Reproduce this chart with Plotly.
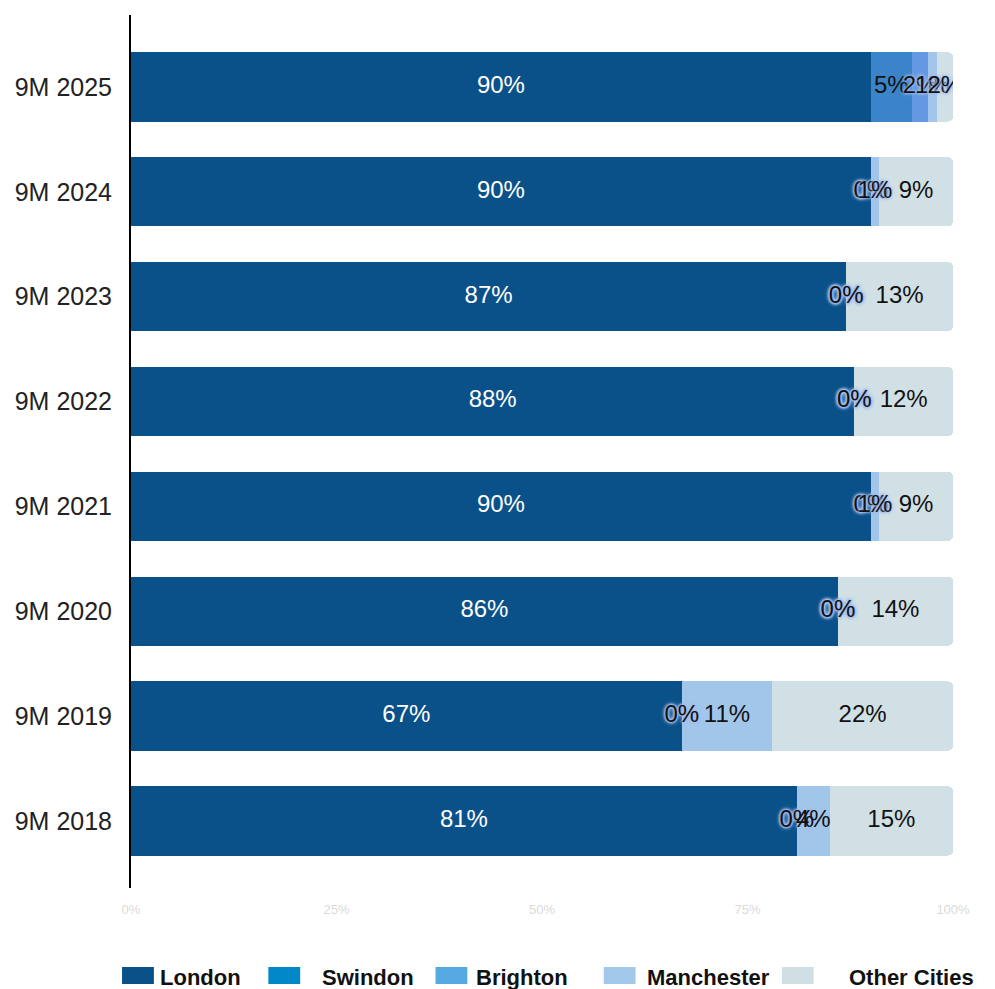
import plotly.graph_objects as go

# data
periods = ["9M 2018", "9M 2019", "9M 2020", "9M 2021", "9M 2022", "9M 2023", "9M 2024", "9M 2025"]
london = [81, 67, 86, 90, 88, 87, 90, 90]
swindon = [0, 0, 0, 0, 0, 0, 0, 5]
brighton = [0, 0, 0, 0, 0, 0, 0, 2]
manchester = [4, 11, 0, 1, 0, 0, 1, 1]
other_cities = [15, 22, 14, 9, 12, 13, 9, 2]
x_ticks = [0, 25, 50, 75, 100]
x_tick_labels = ["0%", "25%", "50%", "75%", "100%"]

series = [
    ("London", london, "#0b5189"),
    ("Swindon", swindon, "#3b84c9"),
    ("Brighton", brighton, "#6399e2"),
    ("Manchester", manchester, "#a2c6ea"),
    ("Other Cities", other_cities, "#d1e0e4"),
]
legend_colors = ["#0b5189", "#0088c8", "#55a8e0", "#a2c8ea", "#d0dfe3"]

# page body adds an 8px offset, so layout pixels are shifted by -8
OFF = 8
W, H = 995, 989
L, R, T, B = 127 - OFF, 42 + OFF, 15 - OFF, 101 + OFF
PW, PH = W - L - R, H - T - B

fig = go.Figure()

for name, vals, color in series:
    fig.add_trace(go.Bar(
        y=periods, x=vals, name=name, orientation="h",
        marker=dict(color=color, line=dict(width=0)),
        width=0.66, showlegend=False, hoverinfo="skip",
    ))

# labels: centered on each segment (zero segments sit on the boundary)
halo = "0 0 2px #a3bff0, 0 0 3px #a3bff0, 0 0 4px #a3bff0"
base = [0] * len(periods)
for name, vals, color in series:
    mids = [b + v / 2 for b, v in zip(base, vals)]
    for small in (True, False):
        xs, ys, ts = [], [], []
        for m, p, v in zip(mids, periods, vals):
            if name == "London" and small:
                continue
            if (v <= 2) != small:
                continue
            xs.append(m); ys.append(p); ts.append(f"{v}%")
        if not xs:
            continue
        font = dict(family="Liberation Sans, Arial, sans-serif", size=24,
                    color="white" if name == "London" else "#111111")
        if small:
            font["shadow"] = halo
        fig.add_trace(go.Scatter(
            x=xs, y=ys, text=ts, mode="text", textposition="middle center",
            textfont=font, showlegend=False, hoverinfo="skip",
        ))
    base = [b + v for b, v in zip(base, vals)]

# manual legend (wide swatches, bold text)
legend_px = [118, 265, 433, 602, 781]
text_px = [154, 317, 472, 643, 846]


def px_x(p):
    return (p - OFF - L) / PW


def px_y(p):
    return (H - B - (p - OFF)) / PH


for (name, _, _), c, sx, tx in zip(series, legend_colors, legend_px, text_px):
    fig.add_shape(type="rect", xref="paper", yref="paper",
                  x0=px_x(sx), x1=px_x(sx + 32), y0=px_y(984), y1=px_y(967),
                  fillcolor=c, line=dict(width=0))
    fig.add_annotation(xref="paper", yref="paper", x=px_x(tx), y=px_y(977),
                       text=f"<b>{name}</b>", showarrow=False,
                       xanchor="left", yanchor="middle",
                       font=dict(family="Liberation Sans, Arial, sans-serif",
                                 size=22, color="#111111"))

fig.update_layout(
    width=W, height=H,
    margin=dict(l=L, r=R, t=T, b=B),
    barmode="stack",
    barcornerradius=5,
    plot_bgcolor="white", paper_bgcolor="white",
    xaxis=dict(range=[0, 100], tickvals=x_ticks, ticktext=x_tick_labels,
               showgrid=False, zeroline=False, showline=False,
               tickfont=dict(family="Liberation Sans Narrow, Arial Narrow, sans-serif",
                             size=13, color="#dadada"),
               ticklabelstandoff=12, fixedrange=True),
    yaxis=dict(categoryorder="array", categoryarray=periods,
               range=[-0.64, 7.686], showgrid=False, zeroline=False,
               showline=True, linecolor="black", linewidth=2,
               tickfont=dict(family="Liberation Sans, Arial, sans-serif",
                             size=25, color="#222222"),
               ticklabelstandoff=12, fixedrange=True),
)

fig.write_html("out.html")
